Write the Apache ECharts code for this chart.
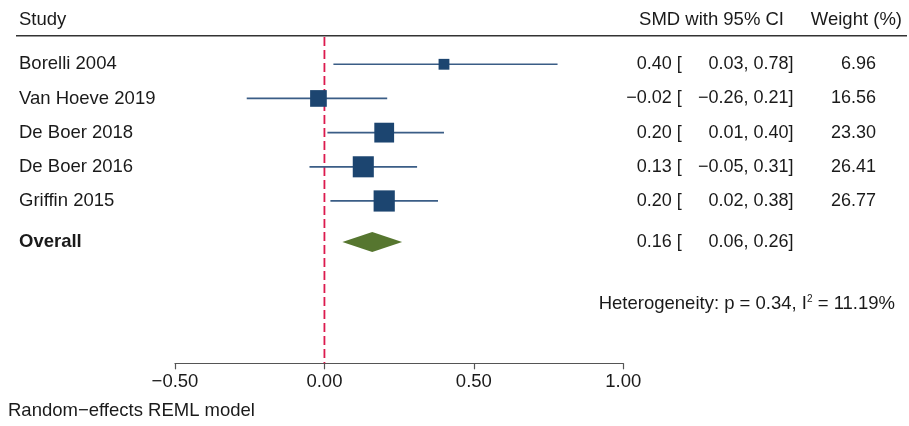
<!DOCTYPE html>
<html><head><meta charset="utf-8">
<script src="https://cdn.jsdelivr.net/npm/echarts@6/dist/echarts.min.js"></script>
<style>html,body{margin:0;padding:0;background:#fff}#c{width:909px;height:426px}</style>
</head><body><div id="c"></div>
<script>
const studies = ['Borelli 2004','Van Hoeve 2019','De Boer 2018','De Boer 2016','Griffin 2015'];
const smd = [0.40, -0.02, 0.20, 0.13, 0.20];
const lower = [0.03, -0.26, 0.01, -0.05, 0.02];
const upper = [0.78, 0.21, 0.40, 0.31, 0.38];
const weights = [6.96, 16.56, 23.30, 26.41, 26.77];
const overallLabel = 'Overall';
const overallEst = [0.16];
const overallLower = [0.06];
const overallUpper = [0.26];
const hetP = '0.34';
const hetI2 = '11.19%';
const xTicks = [-0.5, 0, 0.5, 1.0];
const headers = ['Study', 'SMD with 95% CI', 'Weight (%)'];
const footer = 'Random\u2212effects REML model';

const FAM = '"Liberation Sans", Arial, sans-serif';
const FONT = '18.5px ' + FAM;
const NUMFONT = '18px ' + FAM;
const BOLD = 'bold 18.5px ' + FAM;
const TXT = '#1a1a1a';
const fmt = v => (v < 0 ? '\u2212' : '') + Math.abs(v).toFixed(2);

const OVERALL_ROW = 6.2, HET_ROW = 8, HEADER_ROW = -0.29;
const studyRows = studies.map((s, i) => i + 1);

const chart = echarts.init(document.getElementById('c'));

function txt(x, y, text, align, font) {
  return {type: 'text', style: {x: x, y: y, text: text, fill: TXT, font: font || FONT, align: align || 'left', verticalAlign: 'middle'}};
}

function rowTexts(label, est, lo, hi, w, y, bold) {
  const els = [
    txt(19, y, label, 'left', bold ? BOLD : FONT),
    txt(681.7, y, fmt(est) + ' [', 'right', NUMFONT),
    txt(748.5, y, fmt(lo) + ',', 'right', NUMFONT),
    txt(793.5, y, fmt(hi) + ']', 'right', NUMFONT)
  ];
  if (w != null) els.push(txt(876, y, w.toFixed(2), 'right', NUMFONT));
  return els;
}

const option = {
  animation: false,
  grid: {left: 175, right: 909 - 623.3, top: 30.1, bottom: 426 - 363.3},
  xAxis: {
    type: 'value', position: 'bottom', min: xTicks[0], max: xTicks[xTicks.length - 1], interval: 0.5,
    splitLine: {show: false},
    axisLine: {show: true, onZero: false, lineStyle: {color: '#555', width: 1.2}},
    axisTick: {show: true, length: 6, lineStyle: {color: '#555', width: 1.2}},
    axisLabel: {margin: 9, color: TXT, fontSize: 18.5, fontFamily: FAM, formatter: v => fmt(v)}
  },
  yAxis: {type: 'value', min: 0, max: 9.75, inverse: true, show: false, splitLine: {show: false}},
  series: [
    {
      type: 'custom', z: 1, data: [[0]],
      renderItem: function (params, api) {
        const a = api.coord([0, 0.2]);
        const b = api.coord([0, 9.75]);
        return {type: 'line', shape: {x1: a[0], y1: a[1], x2: b[0], y2: b[1]},
          style: {stroke: '#dc1a4e', lineWidth: 1.8, lineDash: [9, 4]}};
      }
    },
    {
      type: 'custom', z: 2,
      data: studies.map((s, i) => [lower[i], upper[i], studyRows[i]]),
      renderItem: function (params, api) {
        const a = api.coord([api.value(0), api.value(2)]);
        const b = api.coord([api.value(1), api.value(2)]);
        return {type: 'line', shape: {x1: a[0], y1: a[1], x2: b[0], y2: b[1]},
          style: {stroke: '#3a5d86', lineWidth: 1.7}};
      }
    },
    {
      type: 'scatter', z: 3, symbol: 'rect',
      data: studies.map((s, i) => [smd[i], studyRows[i], weights[i]]),
      symbolSize: v => 4.1 * Math.sqrt(v[2]),
      itemStyle: {color: '#1c4570', opacity: 1}
    },
    {
      type: 'custom', z: 3,
      data: overallEst.map((e, i) => [overallLower[i], e, overallUpper[i], OVERALL_ROW]),
      renderItem: function (params, api) {
        const y = api.value(3);
        const l = api.coord([api.value(0), y]);
        const c = api.coord([api.value(1), y]);
        const r = api.coord([api.value(2), y]);
        const h = 10;
        return {type: 'polygon', shape: {points: [[l[0], l[1]], [c[0], c[1] - h], [r[0], r[1]], [c[0], c[1] + h]]},
          style: {fill: '#56762f'}};
      }
    },
    {
      type: 'custom', z: 4, data: [[0]],
      renderItem: function (params, api) {
        const yOf = r => api.coord([0, r])[1];
        const children = [];
        const hy = yOf(HEADER_ROW);
        children.push(txt(19, hy, headers[0], 'left'));
        children.push(txt(784, hy, headers[1], 'right'));
        children.push(txt(902, hy, headers[2], 'right'));
        children.push({type: 'line', shape: {x1: 16, y1: 35.7, x2: 907, y2: 35.7}, style: {stroke: '#333', lineWidth: 1.5}});
        studies.forEach((s, i) => {
          rowTexts(s, smd[i], lower[i], upper[i], weights[i], yOf(studyRows[i]), false).forEach(e => children.push(e));
        });
        rowTexts(overallLabel, overallEst[0], overallLower[0], overallUpper[0], null, yOf(OVERALL_ROW), true).forEach(e => children.push(e));
        children.push({type: 'text', style: {
          x: 895, y: yOf(HET_ROW), align: 'right', verticalAlign: 'middle',
          text: '{a|Heterogeneity: p = ' + hetP + ', I}{s|2}{a| = ' + hetI2 + '}',
          rich: {
            a: {font: FONT, fill: TXT},
            s: {font: '10px ' + FAM, fill: TXT, verticalAlign: 'top'}
          }
        }});
        children.push(txt(8, 411, footer, 'left'));
        return {type: 'group', children: children};
      }
    }
  ]
};
chart.setOption(option);
</script></body></html>
